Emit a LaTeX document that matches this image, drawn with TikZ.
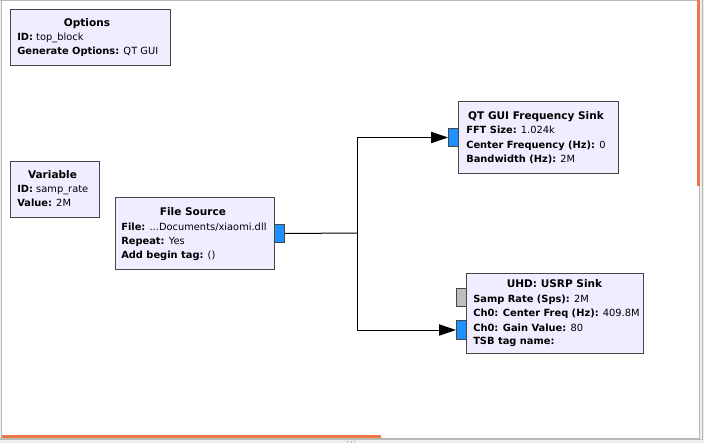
\documentclass[tikz,border=0pt]{standalone}
\usepackage{fontspec}
\setmainfont{DejaVu Sans}
\usetikzlibrary{arrows.meta}
\definecolor{blkfill}{RGB}{241,236,255}
\definecolor{blkline}{RGB}{70,70,70}
\definecolor{portblue}{RGB}{30,144,255}
\definecolor{portgray}{RGB}{190,190,190}
\definecolor{orangebar}{RGB}{238,120,72}
\definecolor{framegray}{RGB}{185,185,182}
\definecolor{winbg}{RGB}{237,237,235}
\begin{document}
\begin{tikzpicture}[x=0.75pt,y=-0.75pt,
  blk/.style={draw=blkline, fill=blkfill, line width=0.75pt, inner sep=0pt, anchor=north west},
  bport/.style={draw=blkline, fill=portblue, line width=0.75pt, inner sep=0pt, anchor=north west, minimum width=7.5pt},
  gport/.style={draw=blkline, fill=portgray, line width=0.75pt, inner sep=0pt, anchor=north west, minimum width=7.5pt},
  txt/.style={anchor=base west, inner sep=0pt, font=\fontsize{7.4}{9}\selectfont},
  ttl/.style={anchor=base, inner sep=0pt, font=\fontsize{7.9}{9}\selectfont\bfseries},
  wire/.style={draw=black, line width=0.75pt},
  arr/.style={-{Triangle[length=12.75pt,width=8.5pt]}},
  frame/.style={draw=framegray, line width=0.75pt}
]
\useasboundingbox (0,0) rectangle (704,443);
% window
\fill[winbg] (0,0) rectangle (704,443);
\fill[white] (1,1) rectangle (699.5,437.5);
\draw[frame] (0,0.5) -- (700,0.5);
\draw[frame] (1.5,0) -- (1.5,438);
\draw[frame] (699.8,0) -- (699.8,438);
\draw[frame] (702.3,0) -- (702.3,440);
\draw[frame] (0,438.2) -- (700,438.2);
\draw[frame] (0,439.8) -- (702.5,439.8);
\fill[orangebar] (697,0) rectangle (699.5,186);
\fill[orangebar] (2,435) rectangle (381,437.7);
\draw[frame] (347.5,440.5) -- (347.5,442.5);
\draw[frame] (351,440.5) -- (351,442.5);
\draw[frame] (354.5,440.5) -- (354.5,442.5);

% Options
\node[blk, minimum width=120pt, minimum height=42pt] (opt) at (10,9) {};
\node[ttl] (optT) at (87,26) {Options};
\node[txt] (optA) at (17,40) {\textbf{ID:} top\_block};
\node[txt] (optB) at (17,54) {\textbf{Generate Options:} QT GUI};

% Variable
\node[blk, minimum width=66.75pt, minimum height=42pt] (var) at (10,161) {};
\node[ttl] (varT) at (52.5,178) {Variable};
\node[txt] (varA) at (17,192) {\textbf{ID:} samp\_rate};
\node[txt] (varB) at (17,206.5) {\textbf{Value:} 2M};

% File Source
\node[blk, minimum width=119.25pt, minimum height=54pt] (fs) at (115,197) {};
\node[ttl] (fsT) at (193,215) {File Source};
\node[txt] (fsA) at (121,230) {\textbf{File:} ...Documents/xiaomi.dll};
\node[txt] (fsB) at (121,244) {\textbf{Repeat:} Yes};
\node[txt] (fsC) at (121,258) {\textbf{Add begin tag:} ()};
\node[bport, minimum height=13.5pt] (fsp) at (274,224) {};

% QT GUI Frequency Sink
\node[blk, minimum width=120pt, minimum height=54pt] (qt) at (458,101) {};
\node[ttl] (qtT) at (536,119) {QT GUI Frequency Sink};
\node[txt] (qtA) at (466,133.5) {\textbf{FFT Size:} 1.024k};
\node[txt] (qtB) at (466,148) {\textbf{Center Frequency (Hz):} 0};
\node[txt] (qtC) at (466,162) {\textbf{Bandwidth (Hz):} 2M};
\node[bport, minimum height=13.5pt] (qtp) at (448,128) {};

% UHD: USRP Sink
\node[blk, minimum width=132.75pt, minimum height=60pt] (uhd) at (466,273) {};
\node[ttl] (uhdT) at (554.5,287.5) {UHD: USRP Sink};
\node[txt] (uhdA) at (473,302.5) {\textbf{Samp Rate (Sps):} 2M};
\node[txt] (uhdB) at (473,316.7) {\textbf{Ch0: Center Freq (Hz):} 409.8M};
\node[txt] (uhdC) at (473,331) {\textbf{Ch0: Gain Value:} 80};
\node[txt] (uhdD) at (473,344.7) {\textbf{TSB tag name:}};
\node[gport, minimum height=13.5pt] (uhdg) at (456,288) {};
\node[bport, minimum height=14.25pt] (uhdp) at (456,320) {};

% connections
\coordinate (j) at (357,233);
\draw[wire] (fsp.east) -- (j);
\draw[wire, arr] (j) |- (qtp.west);
\draw[wire, arr] (j) |- (uhdp.west);
\end{tikzpicture}
\end{document}
